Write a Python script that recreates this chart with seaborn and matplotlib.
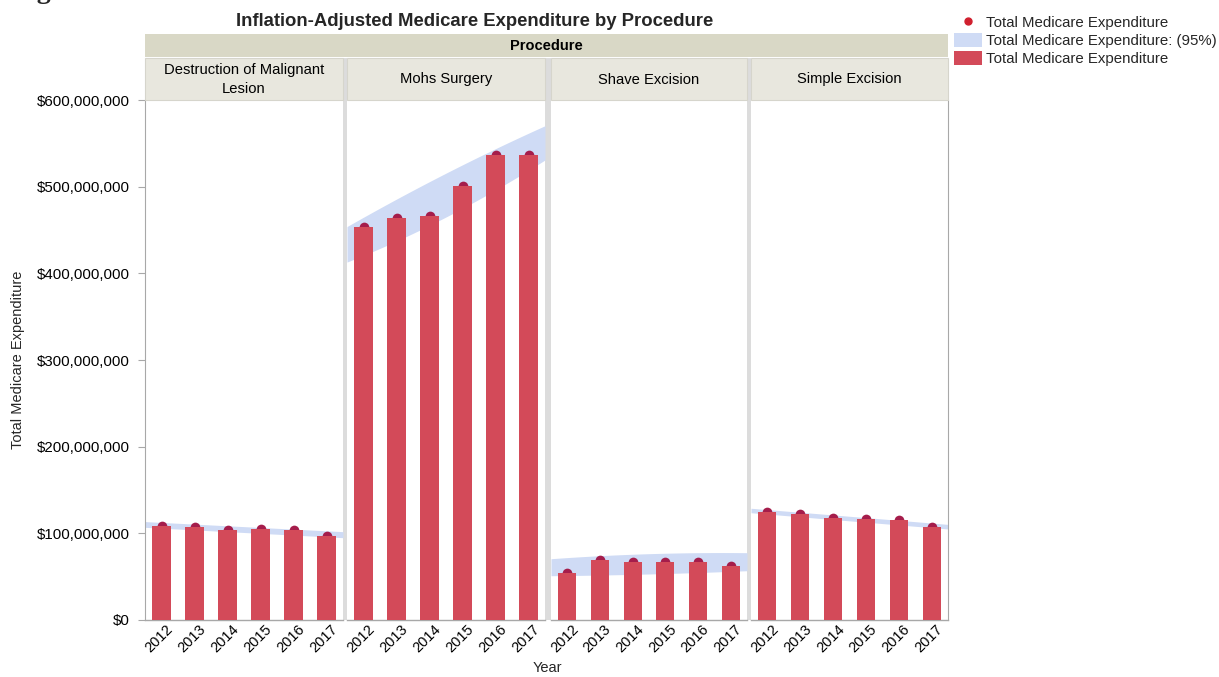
import numpy as np
import pandas as pd
import matplotlib
matplotlib.use("Agg")
import matplotlib.pyplot as plt
from matplotlib.patches import Rectangle, Patch
from matplotlib.lines import Line2D
from matplotlib.ticker import FuncFormatter, MultipleLocator
from matplotlib.transforms import ScaledTranslation
import seaborn as sns

# ---------------- data ----------------
years = ["2012", "2013", "2014", "2015", "2016", "2017"]
procedures = ["Destruction of Malignant\nLesion", "Mohs Surgery", "Shave Excision", "Simple Excision"]

# Total Medicare expenditure, $ millions
destruction = [108.5, 107.3, 103.8, 105.0, 103.8, 96.9]
mohs = [453.5, 463.8, 466.2, 500.8, 536.5, 536.5]
shave = [54.2, 69.2, 66.9, 66.9, 66.9, 62.3]
simple = [124.6, 122.3, 117.7, 116.5, 115.4, 107.3]

# 95% band (lower / upper) read at each year, $ millions
destruction_lo = [105.9, 104.0, 102.0, 99.9, 98.0, 96.0]
destruction_hi = [112.6, 110.6, 108.7, 106.8, 104.8, 102.9]
mohs_lo = [420.7, 437.3, 455.4, 475.0, 496.2, 518.9]
mohs_hi = [464.7, 485.7, 505.8, 525.2, 543.8, 561.7]
shave_lo = [51.3, 51.9, 52.6, 53.6, 54.8, 56.1]
shave_hi = [72.0, 74.2, 75.9, 77.0, 77.7, 77.8]
simple_lo = [122.2, 119.1, 116.0, 112.8, 109.7, 106.6]
simple_hi = [127.4, 124.3, 121.2, 118.2, 115.0, 111.9]

values = [destruction, mohs, shave, simple]
bands_lo = [destruction_lo, mohs_lo, shave_lo, simple_lo]
bands_hi = [destruction_hi, mohs_hi, shave_hi, simple_hi]

rows = []
for p, vals in zip(procedures, values):
    for y, v in zip(years, vals):
        rows.append({"Procedure": p, "Year": y, "Value": v * 1e6})
df = pd.DataFrame(rows)

# ---------------- style ----------------
sns.set_style("white")
plt.rcParams["font.family"] = ["Liberation Sans", "DejaVu Sans"]

BAR = "#d34a59"
BAND = "#cfdbf5"
DOT = "#a51d4b"
DOT_LEG = "#d01f2e"
SEP = "#dcdcdc"
HDR = "#e8e7de"
STRIP = "#d9d8c6"
SPINE = "#a8a8a8"

W, H = 1219, 677
fig = plt.figure(figsize=(W / 100, H / 100), dpi=100)


def rect(x0, x1, y0, y1):
    return [x0 / W, 1 - y1 / H, (x1 - x0) / W, (y1 - y0) / H]


panels = [(145, 343), (347, 545), (551, 747), (751, 948)]
PY0, PY1 = 100, 620

# separators between panels
for (a0, a1), (b0, b1) in zip(panels[:-1], panels[1:]):
    fig.add_artist(Rectangle((a1 / W, 1 - PY1 / H), (b0 - a1) / W, (PY1 - 58) / H,
                             transform=fig.transFigure, color=SEP, lw=0, zorder=0))

# Procedure strip
fig.add_artist(Rectangle((145 / W, 1 - 57 / H), (948 - 145) / W, (57 - 34) / H,
                         transform=fig.transFigure, facecolor=STRIP, lw=0))
fig.text((145 + 948) / 2 / W, 1 - 45.5 / H, "Procedure", ha="center", va="center",
         fontsize=10.5, fontweight="bold", color="black")

grid = np.linspace(-0.5, 5.5, 200)
pos = np.arange(len(years))
xoff = ScaledTranslation(4 / 100, 5 / 100, fig.dpi_scale_trans)

for i, ((x0, x1), proc) in enumerate(zip(panels, procedures)):
    ax = fig.add_axes(rect(x0, x1, PY0, PY1))
    sub = df[df["Procedure"] == proc]

    lo = np.polyval(np.polyfit(pos, np.array(bands_lo[i]) * 1e6, 2), grid)
    hi = np.polyval(np.polyfit(pos, np.array(bands_hi[i]) * 1e6, 2), grid)
    ax.fill_between(grid, lo, hi, color=BAND, lw=0, zorder=1)

    sns.stripplot(data=sub, x="Year", y="Value", order=years, jitter=False,
                  color=DOT, size=7, linewidth=0, ax=ax, zorder=2)
    sns.barplot(data=sub, x="Year", y="Value", order=years, color=BAR,
                width=0.55, saturation=1, errorbar=None, linewidth=0,
                edgecolor="none", ax=ax, zorder=3)

    ax.set_xlim(-0.5, 5.5)
    ax.set_ylim(0, 600e6)
    ax.yaxis.set_major_locator(MultipleLocator(100e6))
    ax.set_xlabel("")
    ax.set_ylabel("")
    for s in ["top", "right", "left"]:
        ax.spines[s].set_visible(False)
    ax.spines["bottom"].set_color(SPINE)
    ax.spines["bottom"].set_linewidth(1.0)
    if i == 0:
        ax.spines["left"].set_visible(True)
        ax.spines["left"].set_color(SPINE)
        ax.yaxis.set_major_formatter(FuncFormatter(lambda v, _: f"${v:,.0f}"))
        ax.tick_params(axis="y", which="major", length=5, color=SPINE, labelsize=10.8,
                       left=True, pad=6, labelcolor="black")
    else:
        ax.tick_params(axis="y", left=False, labelleft=False)
    if i == len(panels) - 1:
        ax.spines["right"].set_visible(True)
        ax.spines["right"].set_color(SPINE)
    ax.tick_params(axis="x", bottom=False, labelsize=10.5, pad=2, labelcolor="black")
    for lab in ax.get_xticklabels():
        lab.set_rotation(45)
        lab.set_ha("right")
        lab.set_rotation_mode("anchor")
        lab.set_transform(lab.get_transform() + xoff)

    # panel header
    fig.add_artist(Rectangle((x0 / W, 1 - 100 / H), (x1 - x0) / W, (100 - 58) / H,
                             transform=fig.transFigure, facecolor=HDR,
                             edgecolor="#d6d5cc", lw=0.8))
    fig.text((x0 + x1) / 2 / W, 1 - 79.5 / H, proc, ha="center", va="center",
             fontsize=10.6, color="black", linespacing=1.5)

# Title, axis labels
fig.text(475 / W, 1 - 21 / H, "Inflation-Adjusted Medicare Expenditure by Procedure",
         ha="center", va="center", fontsize=13.3, fontweight="bold")
fig.text(18 / W, 1 - 360 / H, "Total Medicare Expenditure", rotation=90,
         ha="center", va="center", fontsize=10.5)
fig.text(547 / W, 1 - 668 / H, "Year", ha="center", va="center", fontsize=10.5)

# cut-off caption fragment at the top left (only descenders visible)
fig.text(12 / W, 1 + 1.5 / H, "Figure 3.", ha="left", va="baseline", fontsize=20,
         fontweight="bold", family=["Liberation Serif", "DejaVu Serif"])

# Legend
handles = [
    Line2D([], [], marker="o", ls="", color=DOT_LEG, markersize=5),
    Patch(facecolor=BAND, edgecolor="none"),
    Patch(facecolor=BAR, edgecolor="none"),
]
labels = ["Total Medicare Expenditure", "Total Medicare Expenditure: (95%)",
          "Total Medicare Expenditure"]
fig.legend(handles, labels, loc="upper left", bbox_to_anchor=(954 / W, 1 - 15 / H),
           frameon=False, fontsize=10.8, handlelength=1.85, handleheight=1.0,
           handletextpad=0.3, labelspacing=0.22, borderaxespad=0, borderpad=0)

fig.savefig("out.png", dpi=100)
